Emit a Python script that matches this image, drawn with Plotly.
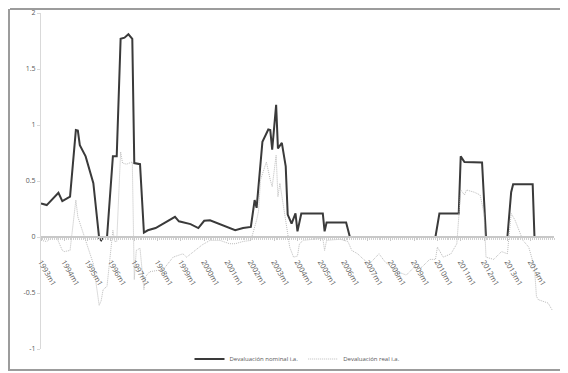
import plotly.graph_objects as go

# Devaluación nominal i.a. (readings from picture)
nominal_dates = [
    "1993-01", "1993-04", "1993-10", "1993-12", "1994-04", "1994-07", "1994-08", "1994-09",
    "1994-12", "1995-04", "1995-07", "1995-08", "1995-09", "1995-11", "1996-02", "1996-04",
    "1996-06", "1996-08", "1996-10", "1996-12", "1997-01", "1997-04", "1997-06", "1997-08",
    "1997-12", "1998-04", "1998-07", "1998-10", "1998-12", "1999-06", "1999-10", "2000-01",
    "2000-04", "2000-09", "2001-02", "2001-05", "2001-09", "2002-01", "2002-03", "2002-04",
    "2002-07", "2002-10", "2002-11", "2002-12", "2003-02", "2003-03", "2003-05", "2003-07",
    "2003-08", "2003-10", "2003-12", "2004-01", "2004-03", "2005-02", "2005-03", "2005-04",
    "2006-02", "2006-04", "2009-12", "2010-02", "2010-12", "2011-01", "2011-03", "2011-12",
    "2012-02", "2013-01", "2013-03", "2013-04", "2014-02", "2014-03", "2014-12",
]
nominal_values = [
    0.30, 0.285, 0.395, 0.32, 0.36, 0.955, 0.95, 0.82,
    0.72, 0.48, -0.01, -0.03, 0.0, 0.0, 0.72, 0.72,
    1.77, 1.78, 1.81, 1.77, 0.66, 0.65, 0.04, 0.06,
    0.08, 0.12, 0.15, 0.18, 0.14, 0.115, 0.08, 0.145,
    0.15, 0.115, 0.08, 0.06, 0.08, 0.09, 0.33, 0.26,
    0.85, 0.96, 0.955, 0.78, 1.18, 0.79, 0.84, 0.63,
    0.20, 0.12, 0.21, 0.05, 0.21, 0.21, 0.05, 0.13,
    0.13, 0.0, 0.0, 0.21, 0.21, 0.72, 0.67, 0.665,
    0.0, 0.0, 0.40, 0.47, 0.47, 0.0, 0.0,
]

# Devaluación real i.a. (readings from picture)
real_dates = [
    "1993-01", "1993-04", "1993-07", "1993-09", "1993-12", "1994-01", "1994-04", "1994-07",
    "1994-08", "1994-12", "1995-04", "1995-07", "1995-08", "1995-09", "1995-11", "1996-02",
    "1996-03", "1996-04", "1996-06", "1996-07", "1996-09", "1996-12", "1997-01", "1997-02",
    "1997-04", "1997-06", "1997-07", "1997-09", "1998-04", "1998-09", "1999-02", "1999-04",
    "1999-10", "1999-12", "2000-04", "2000-09", "2001-02", "2001-05", "2001-09", "2002-01",
    "2002-04", "2002-05", "2002-06", "2002-09", "2002-11", "2002-12", "2003-02", "2003-03",
    "2003-04", "2003-06", "2003-08", "2003-09", "2003-11", "2004-01", "2004-02", "2004-04",
    "2005-02", "2005-03", "2005-04", "2005-11", "2006-03", "2006-05", "2006-08", "2006-11",
    "2007-02", "2007-07", "2007-10", "2008-02", "2008-06", "2008-09", "2009-01", "2009-05",
    "2009-09", "2009-12", "2010-01", "2010-04", "2010-08", "2010-11", "2011-01", "2011-03",
    "2011-04", "2011-08", "2011-11", "2012-01", "2012-02", "2012-06", "2012-10", "2013-01",
    "2013-03", "2013-05", "2013-09", "2013-12", "2014-03", "2014-04", "2014-05", "2014-10",
    "2014-12",
]
real_values = [
    -0.03, -0.04, 0.0, 0.0, -0.12, -0.13, -0.12, 0.33,
    0.18, -0.03, -0.24, -0.61, -0.57, -0.47, -0.44, 0.06,
    -0.04, -0.04, 0.76, 0.66, 0.65, 0.67, -0.38, -0.12,
    -0.10, -0.47, -0.35, -0.31, -0.29, -0.18, -0.15, -0.18,
    -0.10, -0.07, -0.03, -0.03, -0.06, -0.06, -0.04, -0.03,
    0.15, 0.23, 0.51, 0.67, 0.51, 0.45, 0.73, 0.36,
    0.48, 0.27, 0.03, -0.09, -0.18, -0.17, -0.06, -0.03,
    -0.01, -0.12, -0.03, -0.02, -0.04, -0.12, -0.15, -0.20,
    -0.24, -0.15, -0.22, -0.28, -0.32, -0.34, -0.27, -0.27,
    -0.20, -0.20, -0.09, -0.18, -0.15, -0.06, 0.42, 0.375,
    0.42, 0.40, 0.375, 0.21, -0.18, -0.20, -0.13, -0.15,
    0.21, 0.15, -0.03, -0.09, -0.27, -0.53, -0.56, -0.59,
    -0.65,
]

year_ticks = list(range(1993, 2015))
tick_vals = [f"{y}-01-01" for y in year_ticks]
tick_text = [f"{y}m1" for y in year_ticks]
y_ticks = [2, 1.5, 1, 0.5, 0, -0.5, -1]
y_tick_text = ["2", "1.5", "1", "0.5", "0", "-0.5", "-1"]

# the page adds an 8px body margin; target screen positions are shifted by it
OFF = 8
W, H = 568 - OFF, 373 - OFF
L, R, T, B = 41 - OFF, 14, 13 - OFF, 24
pw, ph = W - L - R, H - T - B

def px(x):
    return (x - OFF - L) / pw

def py(y):
    return (H - B - (y - OFF)) / ph

fig = go.Figure()
fig.add_trace(go.Scatter(
    x=nominal_dates, y=nominal_values, mode="lines",
    name="Devaluación nominal i.a.",
    line=dict(color="#3a3a3a", width=2),
))
fig.add_trace(go.Scatter(
    x=real_dates, y=real_values, mode="lines",
    name="Devaluación real i.a.",
    line=dict(color="#bcbcbc", width=1, dash="1px,1px"),
))

frame = "#9c9c9c"
shapes = [
    dict(type="line", xref="paper", yref="paper", x0=px(10), x1=px(568), y0=py(9), y1=py(9),
         line=dict(color=frame, width=2)),
    dict(type="line", xref="paper", yref="paper", x0=px(10), x1=px(568), y0=py(370), y1=py(370),
         line=dict(color=frame, width=2)),
    dict(type="line", xref="paper", yref="paper", x0=px(9), x1=px(9), y0=py(9), y1=py(371),
         line=dict(color=frame, width=2)),
]

fig.update_layout(
    width=W, height=H,
    margin=dict(l=L, r=R, t=T, b=B, autoexpand=False),
    paper_bgcolor="white", plot_bgcolor="white",
    font=dict(family="Open Sans, sans-serif", size=7, color="#595959"),
    showlegend=True,
    legend=dict(orientation="h", x=0.5, xanchor="center", y=py(359), yanchor="middle",
                font=dict(size=6, color="#595959"), itemwidth=30, bgcolor="rgba(0,0,0,0)"),
    shapes=shapes,
    xaxis=dict(
        type="date", range=["1993-01-01", "2015-01-01"],
        tickvals=tick_vals, ticktext=tick_text, tickangle=60,
        anchor="free", position=1/3, automargin=False,
        showline=True, linecolor="#c8c8c8", linewidth=1.5,
        ticks="outside", ticklen=3, tickcolor="#c8c8c8",
        minor=dict(dtick="M1", ticks="outside", ticklen=2, tickcolor="#d0d0d0"),
        showgrid=False, zeroline=False,
        tickfont=dict(size=7.5, color="#595959"),
        ticklabelstandoff=14,
    ),
    yaxis=dict(
        range=[-1, 2], tickvals=y_ticks, ticktext=y_tick_text, automargin=False,
        showline=True, linecolor="#d9d9d9", linewidth=1,
        ticks="outside", ticklen=3, tickcolor="#d9d9d9",
        showgrid=False, zeroline=False,
        tickfont=dict(size=7, color="#595959"),
    ),
)

fig.write_html("out.html")
